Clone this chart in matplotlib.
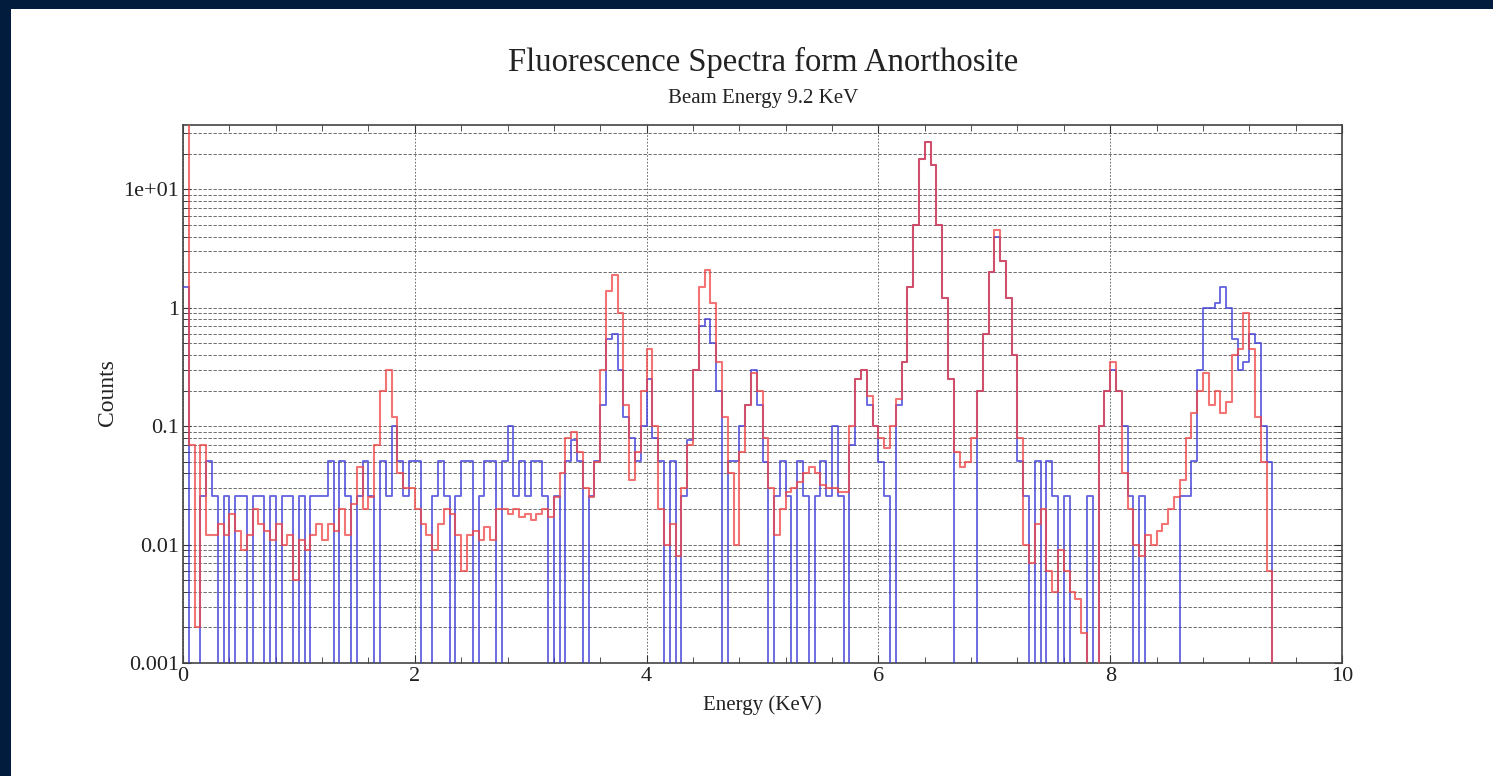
import numpy as np
import matplotlib
matplotlib.use("Agg")
import matplotlib.pyplot as plt
from matplotlib.patches import Rectangle
from matplotlib.ticker import FixedLocator, FixedFormatter, MultipleLocator, NullFormatter

# ---- data (bins of 0.05 keV starting at 0) ----
bin_width = 0.05

red_counts = [
    # 0.00 - 1.95
    40, 0.07, 0.002, 0.07, 0.012, 0.012, 0.015, 0.012, 0.018, 0.013,
    0.009, 0.012, 0.02, 0.015, 0.013, 0.011, 0.015, 0.01, 0.012, 0.005,
    0.011, 0.009, 0.012, 0.015, 0.011, 0.015, 0.013, 0.02, 0.012, 0.022,
    0.045, 0.02, 0.025, 0.07, 0.2, 0.3, 0.12, 0.04, 0.03, 0.03,
    # 2.00 - 3.95
    0.02, 0.015, 0.012, 0.009, 0.015, 0.02, 0.018, 0.012, 0.006, 0.012,
    0.013, 0.011, 0.014, 0.011, 0.02, 0.02, 0.018, 0.02, 0.017, 0.018,
    0.016, 0.018, 0.02, 0.017, 0.025, 0.04, 0.08, 0.09, 0.06, 0.03,
    0.025, 0.05, 0.3, 1.4, 1.9, 0.9, 0.15, 0.035, 0.06, 0.2,
    # 4.00 - 5.95
    0.45, 0.1, 0.02, 0.01, 0.015, 0.008, 0.03, 0.07, 0.3, 1.5,
    2.1, 1.1, 0.35, 0.12, 0.04, 0.01, 0.06, 0.15, 0.28, 0.2,
    0.08, 0.03, 0.012, 0.02, 0.028, 0.03, 0.034, 0.04, 0.045, 0.04,
    0.032, 0.03, 0.03, 0.028, 0.028, 0.1, 0.25, 0.3, 0.18, 0.1,
    # 6.00 - 7.95
    0.08, 0.065, 0.1, 0.17, 0.35, 1.5, 5, 18, 25, 16,
    5, 1.2, 0.25, 0.06, 0.045, 0.05, 0.08, 0.2, 0.6, 2.0,
    4.5, 2.5, 1.2, 0.4, 0.08, 0.01, 0.007, 0.015, 0.02, 0.006,
    0.004, 0.009, 0.006, 0.004, 0.0035, 0.0018, 0, 0, 0.1, 0.2,
    # 8.00 - 9.40
    0.35, 0.2, 0.04, 0.02, 0.01, 0.008, 0.012, 0.01, 0.013, 0.015,
    0.02, 0.025, 0.035, 0.08, 0.13, 0.2, 0.28, 0.15, 0.2, 0.13,
    0.16, 0.4, 0.45, 0.9, 0.45, 0.12, 0.05, 0.006, 0,
]

blue_counts = [
    # 0.00 - 1.95
    1.5, 0, 0, 0.0256, 0.0513, 0.0256, 0, 0.0256, 0, 0.0256,
    0.0256, 0, 0.0256, 0.0256, 0, 0.0256, 0, 0.0256, 0.0256, 0,
    0.0256, 0, 0.0256, 0.0256, 0.0256, 0.0513, 0, 0.0513, 0.0256, 0,
    0.0256, 0.0513, 0.0256, 0, 0.0513, 0.0256, 0.1, 0.0513, 0.0256, 0.0513,
    # 2.00 - 3.95
    0.0513, 0, 0, 0.0256, 0.0513, 0.0256, 0, 0.0256, 0.0513, 0.0513,
    0, 0.0256, 0.0513, 0.0513, 0, 0.0513, 0.1, 0.0256, 0.0513, 0.0256,
    0.0513, 0.0513, 0.0256, 0, 0.0256, 0, 0.0513, 0.077, 0.0513, 0,
    0.0256, 0.0513, 0.15, 0.55, 0.6, 0.3, 0.12, 0.08, 0.0513, 0.1,
    # 4.00 - 5.95
    0.25, 0.08, 0.0513, 0, 0.0513, 0, 0.0256, 0.077, 0.3, 0.7,
    0.8, 0.5, 0.2, 0, 0.0513, 0.0513, 0.1, 0.15, 0.3, 0.15,
    0.05, 0, 0.0256, 0.0513, 0.0256, 0, 0.0513, 0.0256, 0, 0.0256,
    0.0513, 0.0256, 0.1, 0.0256, 0, 0.07, 0.25, 0.3, 0.15, 0.1,
    # 6.00 - 7.95
    0.05, 0.0256, 0, 0.15, 0.35, 1.5, 5, 18, 25, 16,
    5, 1.2, 0.25, 0, 0, 0, 0, 0.2, 0.6, 2.0,
    4.0, 2.5, 1.2, 0.4, 0.0513, 0.0256, 0, 0.0513, 0, 0.0513,
    0.0256, 0, 0.0256, 0, 0, 0, 0.0256, 0, 0.1, 0.2,
    # 8.00 - 9.40
    0.3, 0.2, 0.1, 0.0256, 0, 0.0256, 0, 0, 0, 0,
    0, 0, 0.0256, 0.0256, 0.0513, 0.3, 1.0, 1.0, 1.1, 1.5,
    1.0, 0.55, 0.3, 0.35, 0.6, 0.5, 0.1, 0.05, 0,
]

y_tick_values = [0.001, 0.01, 0.1, 1, 10]
y_tick_labels = ["0.001", "0.01", "0.1", "1", "1e+01"]
x_tick_values = [0, 2, 4, 6, 8, 10]
x_tick_labels = ["0", "2", "4", "6", "8", "10"]

title = "Fluorescence Spectra form Anorthosite"
subtitle = "Beam Energy 9.2 KeV"

# ---- figure ----
W, H = 1493, 776
serif = ["Liberation Serif", "DejaVu Serif"]
fig = plt.figure(figsize=(W / 100, H / 100), dpi=100, facecolor="#021c3e")
fig.add_artist(Rectangle((11 / W, 0), 1 - 11 / W, 1 - 9 / H, transform=fig.transFigure,
                         facecolor="white", edgecolor="none", zorder=0))

ax = fig.add_axes([183 / W, 1 - 663 / H, (1342 - 183) / W, (663 - 125) / H])
ax.set_facecolor("white")

energy_red = np.arange(len(red_counts)) * bin_width
energy_blue = np.arange(len(blue_counts)) * bin_width
ax.set_yscale("log", nonpositive="clip")
ax.step(np.append(energy_blue, energy_blue[-1] + bin_width), np.append(blue_counts, 0),
        where="post", color="#3a3ad8", lw=1.3, alpha=0.8, zorder=3)
ax.step(np.append(energy_red, energy_red[-1] + bin_width), np.append(red_counts, 0),
        where="post", color="#f04545", lw=1.5, alpha=0.75, zorder=4)

ax.set_xlim(0, 10)
ax.set_ylim(0.001, 35)

ax.yaxis.set_major_locator(FixedLocator(y_tick_values))
ax.yaxis.set_major_formatter(FixedFormatter(y_tick_labels))
ax.yaxis.set_minor_formatter(NullFormatter())
ax.xaxis.set_major_locator(FixedLocator(x_tick_values))
ax.xaxis.set_major_formatter(FixedFormatter(x_tick_labels))
ax.xaxis.set_minor_locator(MultipleLocator(0.4))

ax.tick_params(which="both", direction="in", top=True, right=True, colors="#333333",
               labelcolor="#222222", labelsize=16)
ax.tick_params(which="major", length=6, pad=3)
ax.tick_params(which="minor", length=4)
for lab in ax.get_xticklabels() + ax.get_yticklabels():
    lab.set_family(serif)

ax.grid(which="both", axis="y", ls=(0, (4, 2)), color="#555555", lw=0.6, zorder=1)
ax.grid(which="major", axis="x", ls=(0, (2, 2)), color="#555555", lw=0.6, zorder=1)
for s in ax.spines.values():
    s.set_color("#444444")
    s.set_linewidth(1.2)

fig.text(763 / W, 1 - 62 / H, title, ha="center", va="center", fontsize=23.5,
         family=serif, color="#222222")
fig.text(763 / W, 1 - 98 / H, subtitle, ha="center", va="center", fontsize=15,
         family=serif, color="#222222")
fig.text(762 / W, 1 - 705 / H, "Energy (KeV)", ha="center", va="center", fontsize=15,
         family=serif, color="#222222")
fig.text(108 / W, 1 - 393 / H, "Counts", ha="center", va="center", fontsize=17,
         rotation=90, family=serif, color="#222222")

fig.savefig("out.png", dpi=100, facecolor=fig.get_facecolor())
